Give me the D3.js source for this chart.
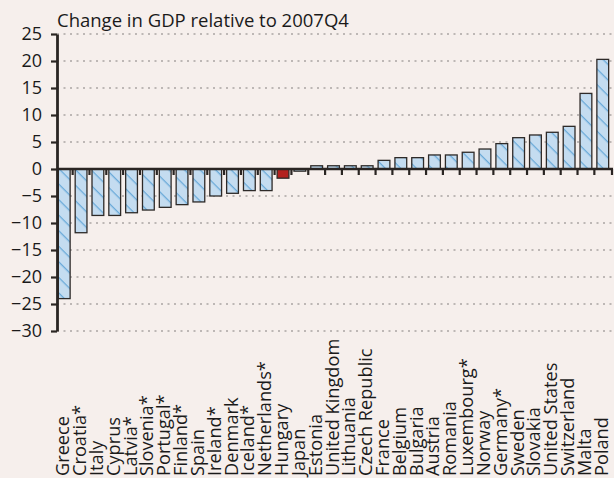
<!DOCTYPE html>
<html>
<head>
<meta charset="utf-8">
<script src="https://cdn.jsdelivr.net/npm/d3@7"></script>
<style>
  body { margin: 0; background: #f6efec; }
  svg { display: block; font-family: "Open Sans", sans-serif; }
</style>
</head>
<body>
<script>
var width = 614,
    height = 478,
    margin = {top: 34, right: 4, bottom: 147, left: 57};

// countries, sorted as in the picture
var countries = ["Greece", "Croatia*", "Italy", "Cyprus", "Latvia*", "Slovenia*", "Portugal*",
  "Finland*", "Spain", "Ireland*", "Denmark", "Iceland*", "Netherlands*", "Hungary", "Japan",
  "Estonia", "United Kingdom", "Lithuania", "Czech Republic", "France", "Belgium", "Bulgaria",
  "Austria", "Romania", "Luxembourg*", "Norway", "Germany*", "Sweden", "Slovakia",
  "United States", "Switzerland", "Malta", "Poland"];
// change in GDP relative to 2007Q4, %
var gdpChange = [-24.0, -11.8, -8.6, -8.6, -8.1, -7.6, -7.1,
  -6.6, -6.1, -5.0, -4.5, -4.0, -4.0, -1.7, -0.4,
  0.6, 0.6, 0.6, 0.6, 1.6, 2.1, 2.1,
  2.6, 2.6, 3.1, 3.7, 4.7, 5.8, 6.3,
  6.8, 7.9, 14.0, 20.3];
var highlighted = ["Hungary"];
var yTicks = [25, 20, 15, 10, 5, 0, -5, -10, -15, -20, -25, -30];
var title = "Change in GDP relative to 2007Q4";

var data = countries.map(function(c, i) { return {name: c, value: gdpChange[i]}; });

var svg = d3.select("body").append("svg")
    .attr("width", width)
    .attr("height", height);

// diagonal hatch, running top-left to bottom-right
var pat = svg.append("defs").append("pattern")
    .attr("id", "hatch")
    .attr("patternUnits", "userSpaceOnUse")
    .attr("width", 11)
    .attr("height", 11)
    .attr("patternTransform", "rotate(45)");
pat.append("rect").attr("width", 11).attr("height", 11).attr("fill", "#c4dcf0");
pat.append("line")
    .attr("x1", 0).attr("y1", 0).attr("x2", 11).attr("y2", 0)
    .attr("stroke", "#6aaad9")
    .attr("stroke-width", 2.6);

var x = d3.scaleBand()
    .domain(countries)
    .range([margin.left, width - margin.right])
    .paddingInner(0.3)
    .paddingOuter(0.08);

var y = d3.scaleLinear()
    .domain([-30, 25])
    .range([height - margin.bottom, margin.top]);

// grid lines
svg.append("g")
    .selectAll("line")
    .data(yTicks.filter(function(d) { return d !== 0; }))
    .enter().append("line")
    .attr("x1", margin.left)
    .attr("x2", width - 2)
    .attr("y1", function(d) { return y(d); })
    .attr("y2", function(d) { return y(d); })
    .attr("stroke", "#aaa5a3")
    .attr("stroke-width", 1.3)
    .attr("stroke-dasharray", "2,4.5");

// title
svg.append("text")
    .attr("x", margin.left)
    .attr("y", 27)
    .attr("font-size", 18.5)
    .attr("fill", "#1a1a1a")
    .text(title);

// bars
svg.append("g")
    .selectAll("rect")
    .data(data)
    .enter().append("rect")
    .attr("x", function(d) { return x(d.name); })
    .attr("width", x.bandwidth())
    .attr("y", function(d) { return y(Math.max(0, d.value)); })
    .attr("height", function(d) { return Math.abs(y(d.value) - y(0)); })
    .attr("fill", function(d) { return highlighted.indexOf(d.name) >= 0 ? "#b3211f" : "url(#hatch)"; })
    .attr("stroke", "#2e2a28")
    .attr("stroke-width", 1.3);

// zero line with ticks between bars
var step = x.step();
var half = step * x.paddingInner() / 2;
var zero = svg.append("g");
zero.selectAll("line.tk")
    .data(countries.slice(1))
    .enter().append("line")
    .attr("class", "tk")
    .attr("x1", function(d) { return x(d) - half; })
    .attr("x2", function(d) { return x(d) - half; })
    .attr("y1", y(0))
    .attr("y2", y(0) + 6)
    .attr("stroke", "#2a2523")
    .attr("stroke-width", 2.2);
zero.append("line")
    .attr("x1", width - 2)
    .attr("x2", width - 2)
    .attr("y1", y(0))
    .attr("y2", y(0) + 6)
    .attr("stroke", "#2a2523")
    .attr("stroke-width", 2.2);
zero.append("line")
    .attr("x1", margin.left)
    .attr("x2", width - 1)
    .attr("y1", y(0))
    .attr("y2", y(0))
    .attr("stroke", "#2a2523")
    .attr("stroke-width", 2.5);

// y axis
var yAxis = d3.axisLeft(y)
    .tickValues(yTicks)
    .tickSize(6)
    .tickSizeOuter(0)
    .tickPadding(9)
    .tickFormat(function(d) { return d < 0 ? "\u2212" + Math.abs(d) : d; });

var gy = svg.append("g")
    .attr("transform", "translate(" + margin.left + ",0)")
    .call(yAxis);
gy.select(".domain").attr("stroke", "#2a2523").attr("stroke-width", 2.8);
gy.selectAll(".tick line").attr("stroke", "#2a2523").attr("stroke-width", 2.2);
gy.selectAll(".tick text")
    .attr("font-size", 18)
    .attr("font-family", "'Open Sans', sans-serif")
    .attr("fill", "#1a1a1a");

// country labels, rotated
svg.append("g")
    .selectAll("text")
    .data(countries)
    .enter().append("text")
    .attr("transform", function(d) {
      return "translate(" + (x(d) + x.bandwidth() / 2 + 5) + "," + 476 + ") rotate(-90)";
    })
    .attr("font-size", 18.2)
    .attr("fill", "#1a1a1a")
    .text(function(d) { return d; });
</script>
</body>
</html>
